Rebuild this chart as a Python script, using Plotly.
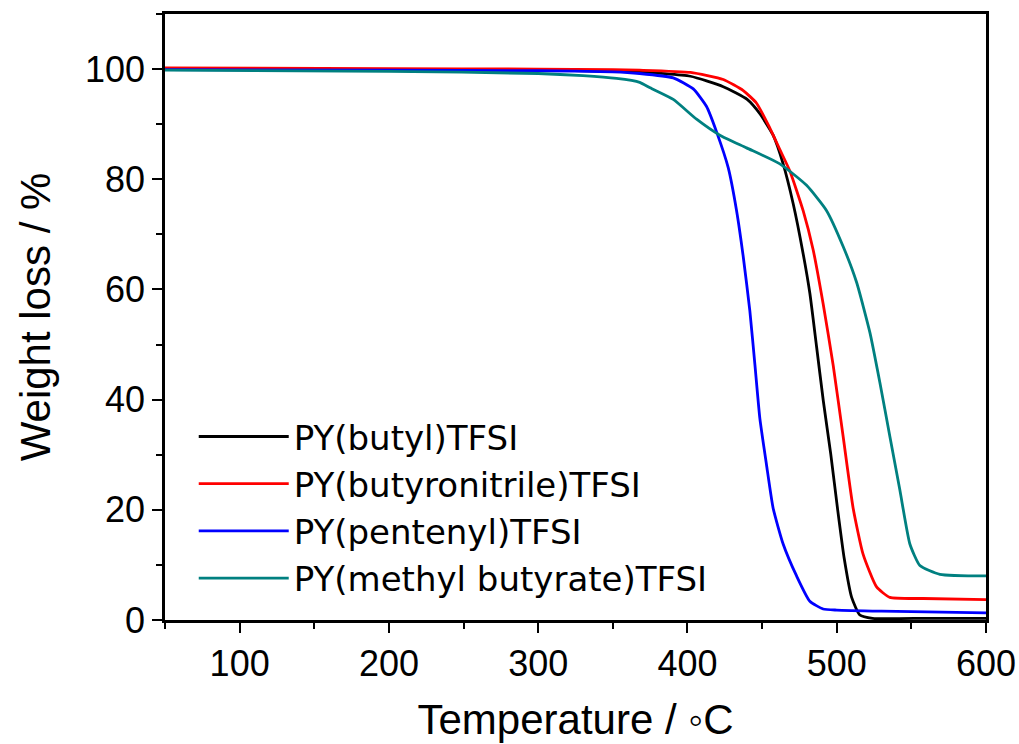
import plotly.graph_objects as go

# ---- data (temperature in degC, weight in %) ----
t_butyl = [50, 200, 300, 350, 368, 402, 424, 440, 448.5, 457.4, 464.1, 470.8, 477.5, 482, 486.5, 491, 496, 500.5, 505, 510, 515.5, 524, 560, 600]
w_butyl = [100, 99.9, 99.8, 99.6, 99.5, 98.7, 96.8, 94.5, 91.9, 88.0, 82.8, 75.6, 66.5, 59.3, 49.6, 39.8, 30.1, 20.3, 11.2, 4.1, 0.9, 0.3, 0.3, 0.3]

t_nitrile = [50, 200, 300, 350, 368, 402, 424, 437.4, 446.3, 455.2, 461.9, 468.6, 477.5, 484.2, 490.9, 497.6, 504.3, 511, 517.7, 526.7, 535.6, 558, 600]
w_nitrile = [100.2, 100.1, 100, 99.9, 99.8, 99.4, 98.1, 96.1, 93.8, 89.3, 85.4, 81.5, 74.3, 67.2, 57.4, 46.3, 33.3, 20.3, 11.9, 6.0, 4.1, 3.9, 3.7]

t_pentenyl = [50, 200, 300, 350, 368, 390.5, 403.9, 412.8, 419.5, 427.3, 432.9, 437.4, 441.8, 445.2, 448.5, 453, 457.4, 464.1, 473.1, 482, 490.9, 500, 530, 600]
w_pentenyl = [99.9, 99.8, 99.7, 99.5, 99.2, 98.4, 96.4, 93.2, 88.6, 82.1, 74.3, 65.9, 56.1, 46.3, 36.6, 28.1, 20.3, 13.8, 8.0, 3.4, 2.0, 1.8, 1.6, 1.3]

t_ester = [50, 200, 300, 330, 352.5, 368, 375, 390.5, 406.1, 421.7, 439.6, 461.9, 479.8, 493.2, 504.3, 513.3, 522.2, 528.9, 535.6, 542.3, 549, 555.7, 569.1, 600]
w_ester = [99.8, 99.6, 99.2, 98.8, 98.3, 97.6, 96.6, 94.5, 90.9, 88.0, 85.7, 82.8, 78.9, 74.3, 67.8, 61.3, 52.2, 43.1, 33.3, 23.6, 13.8, 9.9, 8.3, 8.0]

names = ["PY(butyl)TFSI", "PY(butyronitrile)TFSI", "PY(pentenyl)TFSI", "PY(methyl butyrate)TFSI"]
colors = ["#000000", "#ff0000", "#0000ff", "#008080"]
series = [(t_butyl, w_butyl), (t_nitrile, w_nitrile), (t_pentenyl, w_pentenyl), (t_ester, w_ester)]

x_ticks = [100, 200, 300, 400, 500, 600]
y_ticks = [0, 20, 40, 60, 80, 100]

fig = go.Figure()
for (t, w), n, c in zip(series, names, colors):
    fig.add_trace(go.Scatter(x=t, y=w, mode="lines", name=n,
                             line=dict(color=c, width=2.8, shape="spline", smoothing=0.5)))

fig.update_layout(
    width=1019, height=744,
    margin=dict(l=165, r=33, t=14, b=124, autoexpand=False),
    plot_bgcolor="white", paper_bgcolor="white",
    showlegend=True,
    legend=dict(x=0.035, y=0.35, xanchor="left", yanchor="top",
                font=dict(family="DejaVu Sans, Open Sans", size=34, color="black"),
                itemwidth=90, tracegroupgap=0, bgcolor="rgba(0,0,0,0)"),
)
fig.update_xaxes(
    range=[50, 600], tickvals=x_ticks, ticks="outside", ticklen=10, tickwidth=2,
    showline=True, linecolor="black", linewidth=2.5, mirror=True, showgrid=False, zeroline=False,
    automargin=False,
    tickfont=dict(family="Liberation Sans Narrow, Arial Narrow, Liberation Sans", size=36, color="black"),
    minor=dict(dtick=50, tick0=50, ticks="outside", ticklen=6, tickwidth=2, tickcolor="black", showgrid=False),
    tickcolor="black",
    title=dict(text="Temperature / ◦C", standoff=22,
               font=dict(family="Liberation Sans Narrow, Arial Narrow, Liberation Sans", size=42, color="black")),
)
fig.update_yaxes(
    range=[0, 110], tickvals=y_ticks, ticks="outside", ticklen=10, tickwidth=2,
    showline=True, linecolor="black", linewidth=2.5, mirror=True, showgrid=False, zeroline=False,
    automargin=False,
    tickfont=dict(family="Liberation Sans, Arial", size=36, color="black"),
    minor=dict(dtick=10, tick0=0, ticks="outside", ticklen=6, tickwidth=2, tickcolor="black", showgrid=False),
    tickcolor="black",
    title=dict(text="Weight loss / %", standoff=22,
               font=dict(family="Liberation Sans, Arial", size=42, color="black")),
)

fig.write_html("out.html")
